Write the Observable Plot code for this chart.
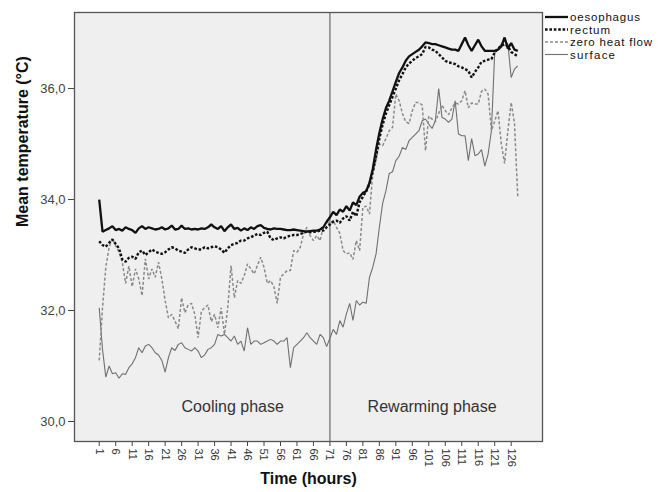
<!DOCTYPE html>
<html>
<head>
<meta charset="utf-8">
<script src="https://cdn.jsdelivr.net/npm/d3@7"></script>
<script src="https://cdn.jsdelivr.net/npm/@observablehq/plot@0.6"></script>
<style>
  body { margin: 0; background: #fff; font-family: "Liberation Sans", Arial, sans-serif; }
  #wrap { position: relative; width: 664px; height: 492px; }
</style>
</head>
<body>
<div id="wrap"></div>
<script>
// ---- data ----
const hours = d3.range(1, 129); // 1..128

const oesophagus = [34.0,33.42,33.45,33.48,33.52,33.45,33.47,33.44,33.5,33.47,33.45,33.40,33.48,33.52,33.47,33.5,33.48,33.46,33.47,33.5,
33.46,33.48,33.53,33.46,33.47,33.53,33.47,33.48,33.46,33.47,33.46,33.48,33.47,33.5,33.55,33.5,33.47,33.52,33.43,33.5,
33.55,33.47,33.49,33.44,33.48,33.45,33.5,33.47,33.52,33.54,33.49,33.47,33.46,33.48,33.47,33.47,33.46,33.45,33.45,33.46,
33.45,33.44,33.43,33.42,33.43,33.44,33.44,33.46,33.5,33.6,33.68,33.78,33.72,33.82,33.78,33.88,33.8,33.95,33.9,34.05,
34.12,34.15,34.3,34.55,34.9,35.2,35.45,35.65,35.78,35.95,36.12,36.28,36.38,36.5,36.58,36.62,36.66,36.7,36.76,36.83,
36.82,36.8,36.8,36.78,36.76,36.74,36.72,36.7,36.7,36.68,36.8,36.92,36.78,36.68,36.78,36.88,36.76,36.68,36.68,36.68,
36.68,36.7,36.76,36.92,36.72,36.82,36.7,36.68];

const rectum = [33.25,33.18,33.15,33.22,33.28,33.2,33.12,32.92,32.88,32.95,32.97,32.93,33.05,33.08,33.0,33.05,33.1,33.06,33.04,33.02,
33.05,33.1,33.14,33.12,33.08,33.06,33.04,33.1,33.14,33.12,33.1,33.1,33.14,33.12,33.14,33.16,33.14,33.1,33.04,33.12,
33.18,33.2,33.22,33.26,33.26,33.3,33.32,33.35,33.38,33.36,33.4,33.42,33.3,33.27,33.3,33.32,33.3,33.33,33.35,33.36,
33.36,33.38,33.4,33.42,33.41,33.42,33.42,33.44,33.44,33.5,33.55,33.6,33.62,33.58,33.66,33.7,33.62,33.78,33.7,33.95,
34.05,34.15,34.28,34.5,34.78,35.1,35.35,35.55,35.7,35.85,36.0,36.15,36.26,36.38,36.45,36.5,36.55,36.58,36.62,36.75,
36.74,36.7,36.68,36.62,36.56,36.5,36.47,36.46,36.44,36.4,36.38,36.35,36.32,36.2,36.3,36.38,36.48,36.5,36.52,36.53,
36.65,36.72,36.77,36.8,36.76,36.66,36.62,36.58];

const zeroHeatFlow = [31.1,32.05,32.78,33.14,33.3,33.17,33.05,32.87,32.49,32.8,32.43,32.75,32.57,32.27,32.93,32.57,32.75,32.6,32.87,32.57,
32.18,31.87,31.93,31.81,31.67,32.23,31.96,32.1,32.13,31.93,31.51,31.99,32.05,32.1,31.8,31.93,31.69,32.05,31.57,32.05,
32.81,32.23,32.54,32.49,32.63,32.84,32.75,32.66,32.81,32.96,32.78,32.49,32.54,32.43,32.13,32.6,32.66,32.72,32.72,33.08,
33.05,33.14,33.38,33.5,33.35,33.26,33.35,33.26,33.5,33.6,33.56,33.62,33.5,33.39,33.08,33.02,33.04,32.92,33.26,33.08,
33.86,33.88,33.74,34.47,34.7,35.0,34.97,35.1,35.24,35.3,35.9,35.78,35.55,35.4,35.37,35.6,35.75,35.75,35.7,34.88,
35.5,35.45,35.4,35.55,35.7,35.6,35.53,35.65,35.74,35.72,35.78,35.96,35.65,35.74,35.72,35.72,35.95,35.99,35.9,35.24,
35.41,35.6,35.0,34.65,35.24,35.75,35.37,34.04];

const surface = [32.05,31.3,30.8,31.0,30.86,30.88,30.78,30.86,30.85,30.97,31.04,31.15,31.33,31.24,31.36,31.39,31.33,31.24,31.2,31.1,
30.89,31.15,31.33,31.28,31.39,31.42,31.33,31.3,31.27,31.33,31.27,31.15,31.2,31.3,31.33,31.39,31.57,31.54,31.57,31.51,
31.45,31.54,31.39,31.45,31.27,31.69,31.39,31.45,31.45,31.39,31.42,31.45,31.48,31.45,31.39,31.45,31.45,31.51,30.97,31.33,
31.39,31.45,31.51,31.6,31.51,31.45,31.39,31.57,31.51,31.35,31.5,31.66,31.57,31.82,31.7,31.94,32.13,31.82,32.18,32.1,
32.15,32.13,32.6,32.78,33.02,33.5,33.93,34.16,34.47,34.5,34.7,34.78,34.94,34.9,35.06,35.12,35.18,35.24,35.42,35.45,
35.36,35.28,35.42,36.0,35.48,35.45,35.39,35.45,35.78,35.18,35.15,35.15,34.7,35.1,34.79,34.82,34.9,34.6,34.82,35.24,
36.65,36.7,36.8,36.86,36.8,36.2,36.35,36.41];

const seriesNames = ["oesophagus", "rectum", "zero heat flow", "surface"];
const xTicks = d3.range(1, 127, 5); // 1, 6, ..., 126
const yTicks = [30, 32, 34, 36];
const phaseBoundary = [71];
const phaseLabels = [
  {label: "Cooling phase", t: 41.5, v: 30.26},
  {label: "Rewarming phase", t: 102, v: 30.26}
];
const xTitle = "Time (hours)";
const yTitle = "Mean temperature (°C)";

// ---- table ----
const seriesValues = [oesophagus, rectum, zeroHeatFlow, surface];
const rows = seriesValues.map((vals, i) => hours.map((t, j) => ({t, v: vals[j], series: seriesNames[i]})));

const styles = {
  "oesophagus": {stroke: "#111", strokeWidth: 2.3, strokeDasharray: null},
  "rectum": {stroke: "#111", strokeWidth: 2.4, strokeDasharray: "2.6,1.8"},
  "zero heat flow": {stroke: "#8a8a8a", strokeWidth: 1.5, strokeDasharray: "3,2"},
  "surface": {stroke: "#707070", strokeWidth: 1.1, strokeDasharray: null}
};

const comma = d => d.toFixed(1).replace(".", ",");

const chart = Plot.plot({
  width: 664,
  height: 492,
  marginLeft: 74,
  marginRight: 122,
  marginTop: 12,
  marginBottom: 51,
  style: {fontFamily: "'Liberation Sans', Arial, sans-serif", color: "#333", background: "#fff"},
  x: {domain: [-6.5, 135.5]},
  y: {domain: [29.64, 37.37]},
  marks: [
    Plot.frame({fill: "#efefef", stroke: null}),
    Plot.axisX({ticks: xTicks, tickSize: 5, tickRotate: 90, fontSize: 11, tickPadding: 2, label: null, stroke: "#444", fill: "#333"}),
    Plot.axisY({ticks: yTicks, tickFormat: comma, tickSize: 6, fontSize: 13, tickPadding: 3, label: null, stroke: "#444", fill: "#444"}),
    Plot.ruleX(phaseBoundary, {stroke: "#6a6a6a", strokeWidth: 1.2}),
    ...[3, 2, 1, 0].map(i => Plot.line(rows[i], {
      x: "t", y: "v", ...styles[seriesNames[i]],
      strokeLinecap: "butt", strokeLinejoin: "miter"
    })),
    Plot.text(phaseLabels, {x: "t", y: "v", text: "label", fontSize: 16, fill: "#333"}),
    Plot.text([xTitle], {frameAnchor: "bottom", dy: 42, fontSize: 16, fontWeight: "bold", fill: "#111"}),
    Plot.text([yTitle], {frameAnchor: "left", dx: -52, rotate: -90, fontSize: 16, fontWeight: "bold", fill: "#111"}),
    Plot.frame({stroke: "#555", strokeWidth: 1.3})
  ]
});

const wrap = document.getElementById("wrap");
wrap.appendChild(chart);

// ---- legend (SVG overlay to the right of the frame) ----
const ns = "http://www.w3.org/2000/svg";
const leg = document.createElementNS(ns, "svg");
leg.setAttribute("width", 664);
leg.setAttribute("height", 70);
leg.style.position = "absolute";
leg.style.left = "0px";
leg.style.top = "0px";
seriesNames.forEach((name, i) => {
  const y = 17 + i * 12.5;
  const s = styles[name];
  const ln = document.createElementNS(ns, "line");
  ln.setAttribute("x1", 545); ln.setAttribute("x2", 568);
  ln.setAttribute("y1", y); ln.setAttribute("y2", y);
  ln.setAttribute("stroke", s.stroke);
  ln.setAttribute("stroke-width", s.strokeWidth);
  ln.setAttribute("stroke-linecap", "butt");
  if (s.strokeDasharray) ln.setAttribute("stroke-dasharray", s.strokeDasharray);
  leg.appendChild(ln);
  const tx = document.createElementNS(ns, "text");
  tx.setAttribute("x", 570); tx.setAttribute("y", y);
  tx.setAttribute("dy", "0.35em");
  tx.setAttribute("font-size", 11.5);
  tx.setAttribute("font-family", "'Liberation Sans', Arial, sans-serif");
  tx.setAttribute("fill", "#111");
  tx.setAttribute("textLength", [70, 40, 82, 45][i]);
  tx.textContent = name;
  leg.appendChild(tx);
});
wrap.appendChild(leg);
</script>
</body>
</html>
